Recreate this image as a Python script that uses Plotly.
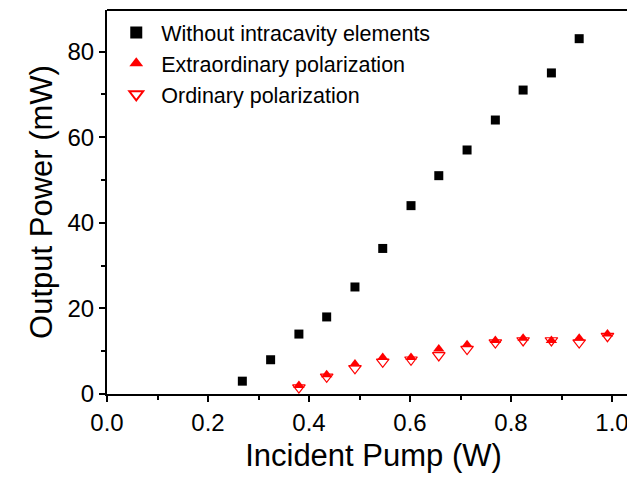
import plotly.graph_objects as go

x_black = [0.268, 0.324, 0.380, 0.435, 0.491, 0.546, 0.602, 0.657, 0.713, 0.769, 0.824, 0.880, 0.935]
y_black = [3, 8, 14, 18, 25, 34, 44, 51, 57, 64, 71, 75, 83]

x_red = [0.380, 0.435, 0.491, 0.546, 0.602, 0.657, 0.713, 0.769, 0.824, 0.880, 0.935, 0.991]
y_extra = [2, 4.5, 7, 8.5, 8.5, 10.5, 11.5, 12.5, 13, 12.5, 13, 14]
y_ord = [1.5, 4, 6, 7.5, 8, 9, 10.5, 12, 12.5, 12.5, 12, 13.5]

fig = go.Figure()
fig.add_trace(go.Scatter(x=x_black, y=y_black, mode="markers", name="Without intracavity elements",
                         marker=dict(symbol="square", size=9, color="black")))
fig.add_trace(go.Scatter(x=x_red, y=y_extra, mode="markers", name="Extraordinary polarization",
                         marker=dict(symbol="triangle-up", size=10, color="red")))
fig.add_trace(go.Scatter(x=x_red, y=y_ord, mode="markers", name="Ordinary polarization",
                         marker=dict(symbol="triangle-down-open", size=11, color="red", line=dict(width=1.2))))

font = "Liberation Sans, Arial, sans-serif"
# figure is wider than the 627px window so the right end (as in the reference) is clipped
fig.update_layout(
    width=660, height=477,
    margin=dict(l=107, r=20, t=10, b=79),
    paper_bgcolor="white", plot_bgcolor="white",
    font=dict(family=font, color="black"),
    showlegend=True,
    legend=dict(x=0.008, y=0.995, xanchor="left", yanchor="top", bgcolor="rgba(0,0,0,0)",
                font=dict(size=21.5, family=font), itemsizing="constant", itemwidth=40, tracegroupgap=0),
    xaxis=dict(range=[0, 533 / 505], tickvals=[0, 0.2, 0.4, 0.6, 0.8, 1.0],
               ticktext=["0.0", "0.2", "0.4", "0.6", "0.8", "1.0"],
               ticks="outside", ticklen=6, tickwidth=1.5, tickcolor="black",
               minor=dict(tickvals=[0.1, 0.3, 0.5, 0.7, 0.9], ticks="outside", ticklen=4, tickwidth=1.5, tickcolor="black"),
               showline=True, linecolor="black", linewidth=2, mirror=False, showgrid=False, zeroline=False,
               tickfont=dict(size=24), title=dict(text="Incident Pump (W)", font=dict(size=31), standoff=10)),
    yaxis=dict(range=[0, 89.7], tickvals=[0, 20, 40, 60, 80],
               ticks="outside", ticklen=6, tickwidth=1.5, tickcolor="black",
               minor=dict(tickvals=[10, 30, 50, 70], ticks="outside", ticklen=4, tickwidth=1.5, tickcolor="black"),
               showline=True, linecolor="black", linewidth=2, mirror=False, showgrid=False, zeroline=False,
               tickfont=dict(size=24), title=dict(text="Output Power (mW)", font=dict(size=31), standoff=6)),
)
fig.add_shape(type="line", xref="paper", yref="paper", x0=0, x1=1, y0=1, y1=1, line=dict(color="black", width=2))
fig.write_html("out.html", config={"displayModeBar": False},
               post_script="document.body.style.margin='0';document.body.style.overflow='hidden';")
